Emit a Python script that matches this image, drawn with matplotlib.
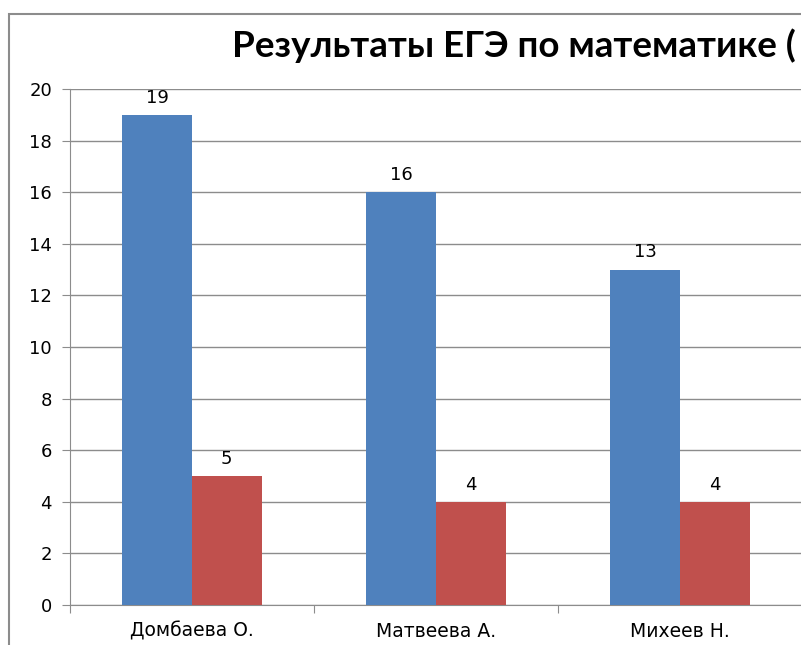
import matplotlib.pyplot as plt
import numpy as np
from matplotlib.patches import Rectangle

# data
students = ['Домбаева О.', 'Матвеева А.', 'Михеев Н.']
series_a = [19, 16, 13]
series_b = [5, 4, 4]
title = 'Результаты ЕГЭ по математике ('

blue = '#4F81BD'
red = '#C0504D'
grey = '#8C8C8C'

fig = plt.figure(figsize=(8.01, 6.45), dpi=100)
ax = fig.add_axes([70 / 801, 1 - 605 / 645, 732 / 801, 516 / 645])

x = np.arange(len(students))
w = 0.285
ax.bar(x - w / 2, series_a, width=w, color=blue, zorder=3)
ax.bar(x + w / 2, series_b, width=w, color=red, zorder=3)

for i in range(len(students)):
    ax.text(x[i] - w / 2, series_a[i] + 0.32, str(series_a[i]), ha='center', va='bottom', fontsize=13)
    ax.text(x[i] + w / 2, series_b[i] + 0.32, str(series_b[i]), ha='center', va='bottom', fontsize=13)

ax.set_xlim(-0.5, len(students) - 0.5)
ax.set_ylim(0, 20)
ax.set_yticks(np.arange(0, 21, 2))
ax.yaxis.grid(True, color=grey, linewidth=1, zorder=0)
ax.set_axisbelow(True)

# category labels between boundary ticks
ax.set_xticks(np.arange(-0.5, len(students), 1))
ax.set_xticklabels([])
ax.set_xticks(x, minor=True)
ax.set_xticklabels(students, minor=True, fontsize=13.5)
ax.tick_params(axis='x', which='minor', length=0, pad=12)
ax.tick_params(axis='x', which='major', length=6, color=grey, direction='out')
ax.tick_params(axis='y', length=6, color=grey, labelsize=13, pad=7)

for s in ['top', 'right']:
    ax.spines[s].set_visible(False)
for s in ['left', 'bottom']:
    ax.spines[s].set_color(grey)

fig.text(232 / 801, 1 - 46 / 645, title, fontsize=26.5, fontweight='bold',
         family=['Lato', 'DejaVu Sans'], ha='left', va='center')

# chart frame, cut off at right and bottom
fig.patches.append(Rectangle((9 / 801, -0.1), 1.2, 1 - 14 / 645 + 0.1, transform=fig.transFigure,
                             fill=False, edgecolor=grey, linewidth=1.5))

fig.savefig('out.png', dpi=100)
